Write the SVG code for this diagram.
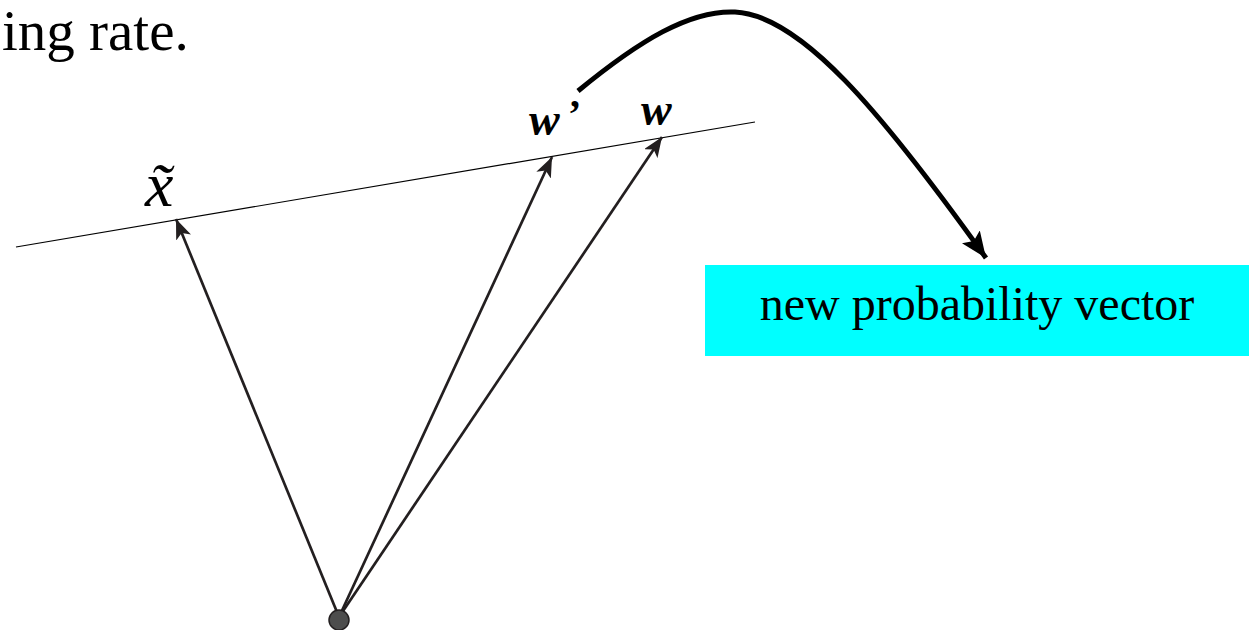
<svg xmlns="http://www.w3.org/2000/svg" width="1249" height="630" viewBox="0 0 1249 630">
<style>
.serif{font-family:"Liberation Serif","Times New Roman",serif;fill:#000}
.vec{stroke:#231f20;stroke-width:2.7;fill:none}
</style>
<defs>
<marker id="ah" markerUnits="userSpaceOnUse" markerWidth="22" markerHeight="16" refX="20" refY="8" orient="auto">
<path d="M0,0 L20,8 L0,16 L5,8 Z" fill="#231f20"/>
</marker>
<marker id="ahBig" markerUnits="userSpaceOnUse" markerWidth="28" markerHeight="22" refX="26" refY="11" orient="auto">
<path d="M0,0 L26,11 L0,22 L5,11 Z" fill="#000"/>
</marker>
</defs>
<rect width="1249" height="630" fill="#fff"/>
<text class="serif" x="2" y="50" font-size="57">ing rate.</text>
<g id="plane">
<line x1="16" y1="247" x2="755" y2="122" stroke="#000" stroke-width="1.2"/>
</g>
<g id="connectors">
<line class="vec" x1="339" y1="617" x2="176" y2="219" marker-end="url(#ah)"/>
<line class="vec" x1="339" y1="617" x2="552" y2="157" marker-end="url(#ah)"/>
<line class="vec" x1="339" y1="617" x2="662" y2="137" marker-end="url(#ah)"/>
<path d="M578,91 C640,40 690,10 735,12 C800,15 880,110 986,258" fill="none" stroke="#000" stroke-width="5" marker-end="url(#ahBig)"/>
</g>
<g id="origin">
<circle cx="339" cy="620" r="10" fill="#4d4d4d" stroke="#231f20" stroke-width="1.5"/>
</g>
<g id="x-tilde">
<text class="serif" x="145" y="206" font-size="64" font-style="italic">x&#x303;</text>
</g>
<g id="w-prime">
<text class="serif" x="529" y="135" font-size="46" font-style="italic" font-weight="bold">w</text>
<text class="serif" x="568" y="127" font-size="40" font-weight="bold">’</text>
</g>
<g id="w">
<text class="serif" x="641" y="125" font-size="46" font-style="italic" font-weight="bold">w</text>
</g>
<g id="new-vector">
<rect x="705" y="265" width="544" height="91" fill="#00ffff"/>
<text class="serif" x="977" y="320" font-size="48" text-anchor="middle">new probability vector</text>
</g>
</svg>
